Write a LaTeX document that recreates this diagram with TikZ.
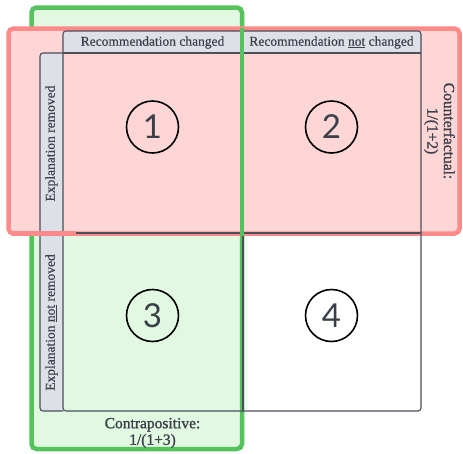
\documentclass[tikz,border=0pt]{standalone}
\usepackage{fontspec}
\setmainfont{Liberation Serif}[FakeBold=0.3]
\newfontfamily\sidefont{Liberation Serif}[FakeBold=1.2]
\newfontfamily\numfont{Lato}
\definecolor{gfill}{HTML}{E1F9E1}
\definecolor{gline}{HTML}{55C35C}
\definecolor{rfill}{HTML}{FFD6D6}
\definecolor{rline}{HTML}{FF8A8A}
\definecolor{hfill}{HTML}{DDE0E6}
\definecolor{tline}{HTML}{4A4F5A}
\definecolor{txt}{HTML}{3A3F4A}
\tikzset{
  tbl/.style={draw=tline,line width=1.1pt},
  hdr/.style={font=\fontsize{13.5}{15}\selectfont,text=txt,inner sep=0pt},
  num/.style={circle,draw=black,line width=1.6pt,minimum size=52pt,inner sep=0pt,font=\numfont\fontsize{33}{33}\selectfont,text=txt},
  side/.style={font=\sidefont\fontsize{15.5}{16.5}\selectfont,text=txt,align=center,inner sep=0pt},
}
\begin{document}
\begin{tikzpicture}[x=1pt,y=-1pt]
\useasboundingbox (0,0) rectangle (463,453);
% green region
\draw[gline,fill=gfill,line width=4.5pt,rounded corners=5pt] (31.5,7.5) rectangle (242,449);
% red region
\draw[rline,fill=rfill,line width=4.5pt,rounded corners=5pt] (8.5,28.5) rectangle (459.5,233.5);
% header
\path[tbl,fill=hfill,rounded corners=3pt] (63,53) -- (63,31) -- (421,31) -- (421,53);
\draw[tbl] (63,53) -- (421,53);
\draw[tbl] (242,31) -- (242,53);
% row labels
\path[tbl,fill=hfill,rounded corners=3pt] (63,53) -- (40,53) -- (40,411) -- (63,411);
% grid
\draw[tbl,rounded corners=3pt] (63,53) -- (63,411) -- (421,411) -- (421,53);
\draw[tbl] (243,234) -- (243,411);
\draw[tbl] (76,233) -- (421,233);
% red bottom edge over label column
\draw[rline,line width=4.5pt] (10.5,233.5) -- (76,233.5);
% green divider over red
\draw[gline,line width=4.5pt] (242,28) -- (242,236);
% texts
\node[hdr] (h1) at (152.5,42.5) {Recommendation changed};
\node[hdr] (h2) at (331.5,42.5) {Recommendation \underline{not} changed};
\node[hdr,rotate=90] (r1) at (51.5,143.5) {Explanation removed};
\node[hdr,rotate=90] (r2) at (51.5,322.5) {Explanation \underline{not} removed};
\node[num] (c1) at (152.5,127) {1};
\node[num] (c2) at (331.5,127) {2};
\node[num] (c3) at (152.5,315.5) {3};
\node[num] (c4) at (331.5,315.5) {4};
\node[side,rotate=-90] (cf) at (439.5,131) {Counterfactual:\\1/(1+2)};
\node[side] (cp) at (152.5,433) {Contrapositive:\\1/(1+3)};
\end{tikzpicture}
\end{document}
